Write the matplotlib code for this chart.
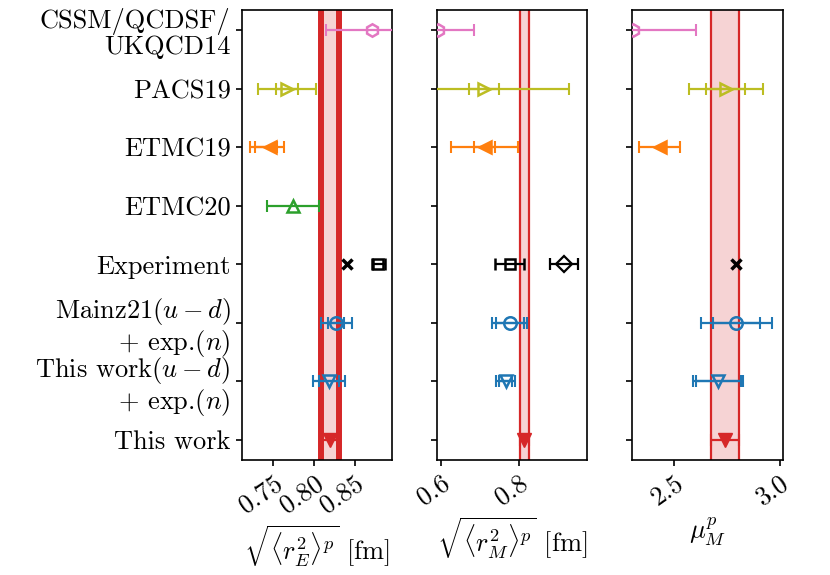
import matplotlib
matplotlib.use("Agg")
import matplotlib.pyplot as plt
import numpy as np

plt.rcParams["font.family"] = "serif"
plt.rcParams["font.serif"] = ["cmr10"]
plt.rcParams["mathtext.fontset"] = "cm"
plt.rcParams["axes.formatter.use_mathtext"] = True
plt.rcParams["font.size"] = 19
plt.rcParams["axes.unicode_minus"] = False

nan = np.nan

# rows from top to bottom
labels = [
    "CSSM/QCDSF/\nUKQCD14",
    "PACS19",
    "ETMC19",
    "ETMC20",
    "Experiment",
    "Mainz21$(u-d)$\n$+$ exp.$(n)$",
    "This work$(u-d)$\n$+$ exp.$(n)$",
    "This work",
]

# lattice results (rows 0-3 and 5-6); errors as [minus, plus]
lat_rows = [0, 1, 2, 3, 5, 6]
lat_colors = ["#e377c2", "#bcbd22", "#ff7f0e", "#2ca02c", "#1f77b4", "#1f77b4"]
lat_markers = ["h", ">", "<", "^", "o", "v"]
lat_filled = [False, False, True, False, False, False]

rE_val = [0.8716, 0.767, 0.746, 0.7745, 0.827, 0.8185]
rE_stat = [[nan, nan], [0.0135, 0.0135], [0.018, 0.009], [nan, nan], [0.010, 0.010], [0.0125, 0.0125]]
rE_tot = [[0.057, 0.057], [0.035, 0.035], [0.024, 0.017], [0.032, 0.032], [0.019, 0.019], [0.020, 0.020]]

rM_val = [0.593, 0.711, 0.712, nan, 0.776, 0.7655]
rM_stat = [[nan, nan], [0.039, 0.039], [0.027, 0.027], [nan, nan], [0.036, 0.036], [0.016, 0.016]]
rM_tot = [[0.092, 0.092], [0.216, 0.216], [0.086, 0.086], [nan, nan], [0.045, 0.045], [0.0235, 0.0235]]

mu_val = [2.305, 2.743, 2.43, nan, 2.794, 2.707]
mu_stat = [[nan, nan], [0.093, 0.093], [nan, nan], [nan, nan], [0.112, 0.112], [0.107, 0.107]]
mu_tot = [[0.295, 0.295], [0.175, 0.175], [0.097, 0.097], [nan, nan], [0.167, 0.167], [0.118, 0.118]]

# experiment (row 4): cross, square, diamond per panel
exp_cross = [0.8409, nan, 2.7928]
exp_square = [0.879, 0.776, nan]
exp_square_err = [0.008, 0.038, nan]
exp_diamond = [nan, 0.915, nan]
exp_diamond_err = [nan, 0.036, nan]

# this work (row 7)
tw_val = [0.820, 0.8136, 2.739]
tw_err = [0.011, 0.0117, 0.065]

xlims = [(0.7115, 0.8955), (0.5906, 0.9746), (2.301, 3.013)]
xticks = [[0.75, 0.80, 0.85], [0.6, 0.8], [2.5, 3.0]]
xticklabels = [["0.75", "0.80", "0.85"], ["0.6", "0.8"], ["2.5", "3.0"]]
xlabels = [
    r"$\sqrt{\langle r_E^2\rangle^p}$ [fm]",
    r"$\sqrt{\langle r_M^2\rangle^p}$ [fm]",
    r"$\mu_M^p$",
]
band_lw = [4.3, 1.6, 1.6]

red = "#d62728"
n_rows = len(labels)
ypos = [n_rows - 1 - i for i in range(n_rows)]

fig, axes = plt.subplots(1, 3, figsize=(8.3, 5.75), dpi=100, sharey=True)
fig.subplots_adjust(left=0.2912, right=0.943, bottom=0.2, top=0.9826, wspace=0.30)

panels = [
    (rE_val, rE_stat, rE_tot),
    (rM_val, rM_stat, rM_tot),
    (mu_val, mu_stat, mu_tot),
]

ekw = dict(capsize=4, capthick=1.5, elinewidth=1.6, linestyle="none")

for k, ax in enumerate(axes):
    vals, stats, tots = panels[k]
    lo = tw_val[k] - tw_err[k]
    hi = tw_val[k] + tw_err[k]
    ax.axvspan(lo, hi, color=red, alpha=0.2, lw=0, zorder=1)
    ax.axvline(lo, color=red, lw=band_lw[k], zorder=1.5)
    ax.axvline(hi, color=red, lw=band_lw[k], zorder=1.5)

    for j, row in enumerate(lat_rows):
        v = vals[j]
        if np.isnan(v):
            continue
        y = ypos[row]
        c = lat_colors[j]
        tot = np.array(tots[j]).reshape(2, 1)
        ax.errorbar([v], [y], xerr=tot, color=c, zorder=3, **ekw)
        st = np.array(stats[j]).reshape(2, 1)
        if not np.isnan(st).any():
            ax.errorbar([v], [y], xerr=st, color=c, zorder=3, **ekw)
        ax.plot([v], [y], marker=lat_markers[j], ms=9, mew=1.8, color=c,
                mfc=c if lat_filled[j] else "none", mec=c, ls="none", zorder=4)

    y_exp = ypos[4]
    if not np.isnan(exp_cross[k]):
        ax.plot([exp_cross[k]], [y_exp], marker="x", ms=7, mew=2.5, color="k", ls="none", zorder=4)
    if not np.isnan(exp_square[k]):
        ax.errorbar([exp_square[k]], [y_exp], xerr=[exp_square_err[k]], color="k", marker="s",
                    ms=7, mew=1.8, mfc="none", mec="k", zorder=4, **ekw)
    if not np.isnan(exp_diamond[k]):
        ax.errorbar([exp_diamond[k]], [y_exp], xerr=[exp_diamond_err[k]], color="k", marker="D",
                    ms=8, mew=1.6, mfc="none", mec="k", zorder=4, **ekw)

    ax.errorbar([tw_val[k]], [ypos[7]], xerr=[tw_err[k]], color=red, marker="v", ms=10,
                mfc=red, mec=red, zorder=4, **ekw)

    ax.set_xlim(*xlims[k])
    ax.set_xticks(xticks[k])
    ax.set_xticklabels(xticklabels[k], rotation=35, ha="right", rotation_mode="anchor")
    ax.set_xlabel(xlabels[k])
    for sp in ax.spines.values():
        sp.set_linewidth(1.2)
    ax.tick_params(width=1.2, length=4.5)

axes[0].set_ylim(-0.35, n_rows - 1 + 0.35)
axes[0].set_yticks(ypos)
axes[0].set_yticklabels(labels, linespacing=1.05)

fig.savefig("out.png", dpi=100)
